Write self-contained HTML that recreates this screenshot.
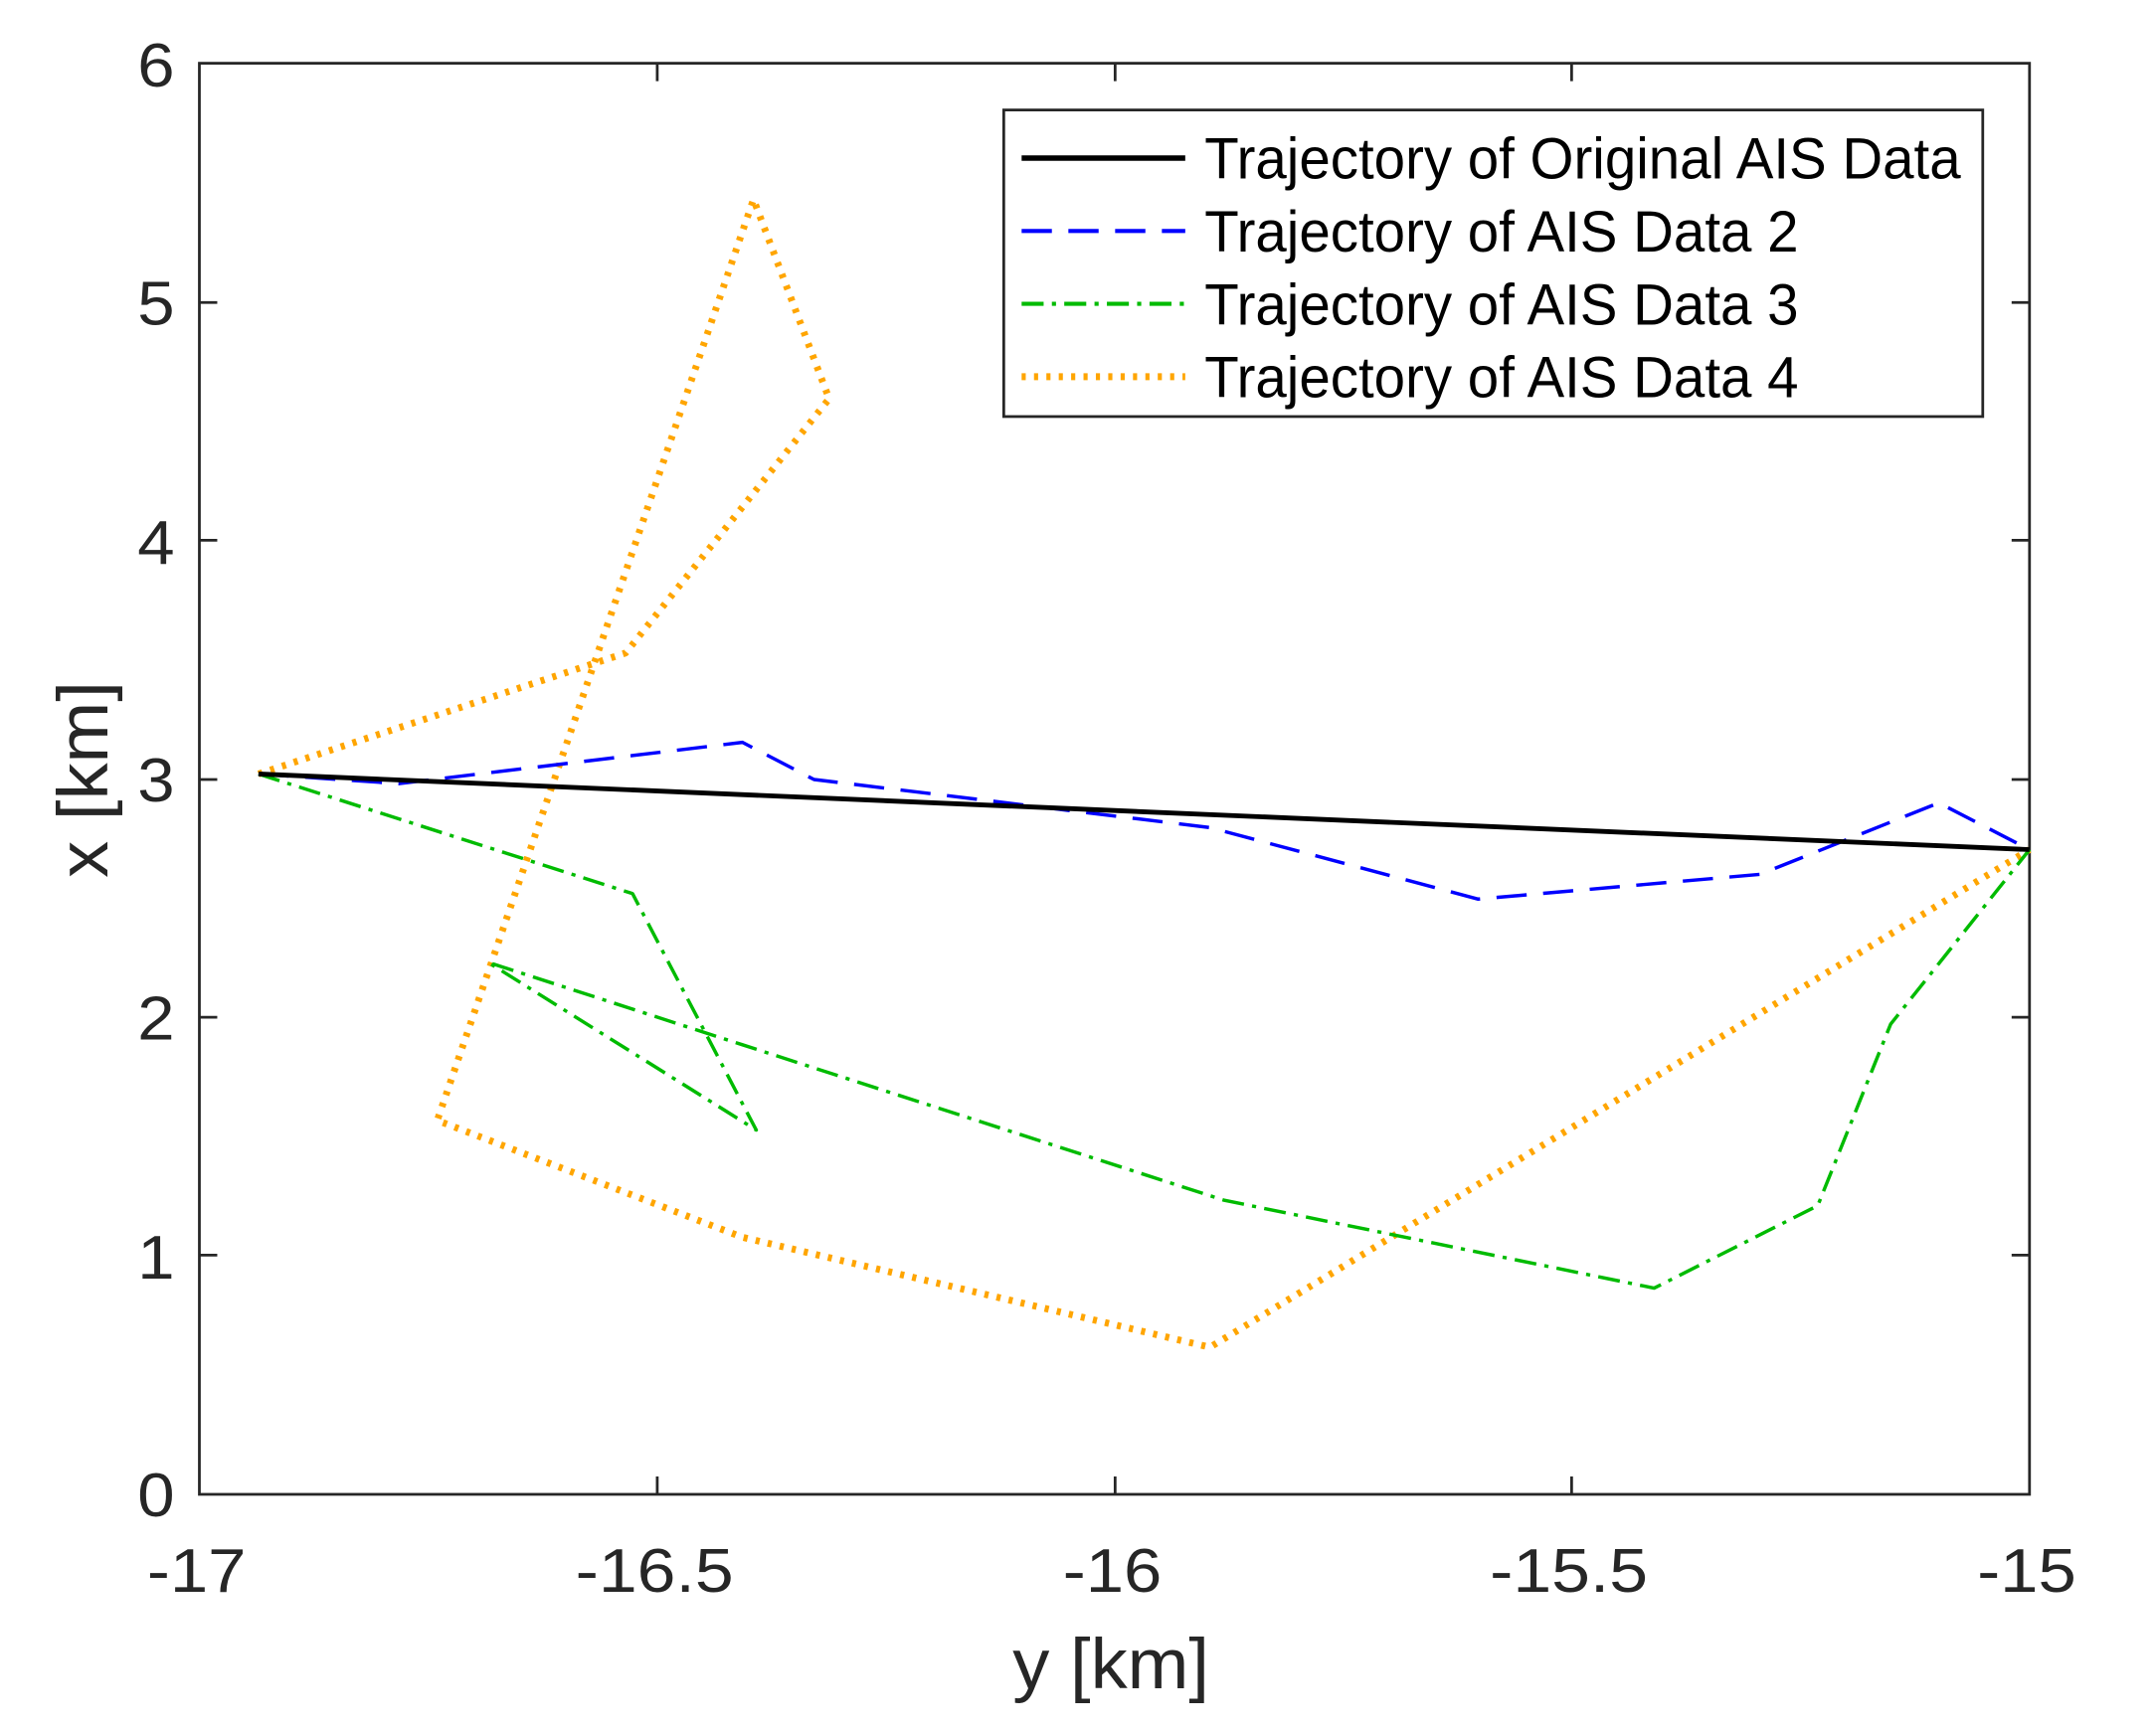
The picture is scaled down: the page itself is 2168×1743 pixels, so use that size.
<!DOCTYPE html>
<html><head><meta charset="utf-8"><style>html,body{margin:0;padding:0;background:#fff}svg{display:block}</style></head>
<body>
<svg width="2168" height="1743" viewBox="0 0 1568 1260.6" xmlns="http://www.w3.org/2000/svg" font-family="Liberation Sans, sans-serif">
<rect x="0" y="0" width="1568" height="1261" fill="#fff"/>
<g stroke="#262626" stroke-width="2" fill="none">
<rect x="145" y="46" width="1331" height="1041"/>
<path d="M145,913h13M145,740h13M145,567h13M145,393h13M145,220h13M1476,913h-13M1476,740h-13M1476,567h-13M1476,393h-13M1476,220h-13M478,1087v-13M811,1087v-13M1143,1087v-13M478,46v13M811,46v13M1143,46v13"/>
</g>
<g font-size="45" fill="#262626" text-anchor="end">
<text x="127" y="1103" textLength="27" lengthAdjust="spacingAndGlyphs">0</text><text x="127" y="930" textLength="27" lengthAdjust="spacingAndGlyphs">1</text><text x="127" y="756" textLength="27" lengthAdjust="spacingAndGlyphs">2</text><text x="127" y="583" textLength="27" lengthAdjust="spacingAndGlyphs">3</text><text x="127" y="410" textLength="27" lengthAdjust="spacingAndGlyphs">4</text><text x="127" y="236" textLength="27" lengthAdjust="spacingAndGlyphs">5</text><text x="127" y="63" textLength="27" lengthAdjust="spacingAndGlyphs">6</text>
</g>
<g font-size="45" fill="#262626" text-anchor="middle">
<text x="143" y="1158" textLength="72" lengthAdjust="spacingAndGlyphs">-17</text><text x="476" y="1158" textLength="115" lengthAdjust="spacingAndGlyphs">-16.5</text><text x="809" y="1158" textLength="72" lengthAdjust="spacingAndGlyphs">-16</text><text x="1141" y="1158" textLength="115" lengthAdjust="spacingAndGlyphs">-15.5</text><text x="1474" y="1158" textLength="72" lengthAdjust="spacingAndGlyphs">-15</text>
<text x="808" y="1228" font-size="52" textLength="143" lengthAdjust="spacingAndGlyphs">y [km]</text>
<text transform="translate(78,567) rotate(-90)" font-size="52" textLength="143" lengthAdjust="spacingAndGlyphs">x [km]</text>
</g>
<g fill="none" stroke-linejoin="round">
<polyline points="188,563 455,475 603,290 548,145 318,815 540,900 880,980 1476,618" stroke="#FFA500" stroke-width="5" stroke-dasharray="3,6"/>
<polyline points="188,563 460,650 550,822 355,700 540,760 890,873 1203,937 1322,877 1375,745 1476,618" stroke="#00BB00" stroke-width="2.5" stroke-dasharray="16,6,3,6"/>
<polyline points="188,563 290,570 540,540 592,567 880,602 1075,654 1280,636 1410,584 1476,618" stroke="#0000FF" stroke-width="2.5" stroke-dasharray="22,12"/>
<line x1="188" y1="563" x2="1476" y2="618" stroke="#000" stroke-width="3.5"/>
</g>
<rect x="730" y="80" width="712" height="223" fill="#fff" stroke="#262626" stroke-width="2"/>
<line x1="743" y1="115" x2="862" y2="115" stroke="#000" stroke-width="4"/>
<line x1="743" y1="168" x2="862" y2="168" stroke="#0000FF" stroke-width="3" stroke-dasharray="22,12"/>
<line x1="743" y1="221" x2="862" y2="221" stroke="#00BB00" stroke-width="3" stroke-dasharray="16,6,3,6"/>
<line x1="743" y1="274" x2="862" y2="274" stroke="#FFA500" stroke-width="5" stroke-dasharray="3,6"/>
<g font-size="42" fill="#000">
<text x="876" y="130" textLength="550" lengthAdjust="spacingAndGlyphs">Trajectory of Original AIS Data</text>
<text x="876" y="183" textLength="432" lengthAdjust="spacingAndGlyphs">Trajectory of AIS Data 2</text>
<text x="876" y="236" textLength="432" lengthAdjust="spacingAndGlyphs">Trajectory of AIS Data 3</text>
<text x="876" y="289" textLength="432" lengthAdjust="spacingAndGlyphs">Trajectory of AIS Data 4</text>
</g>
</svg>
</body></html>
